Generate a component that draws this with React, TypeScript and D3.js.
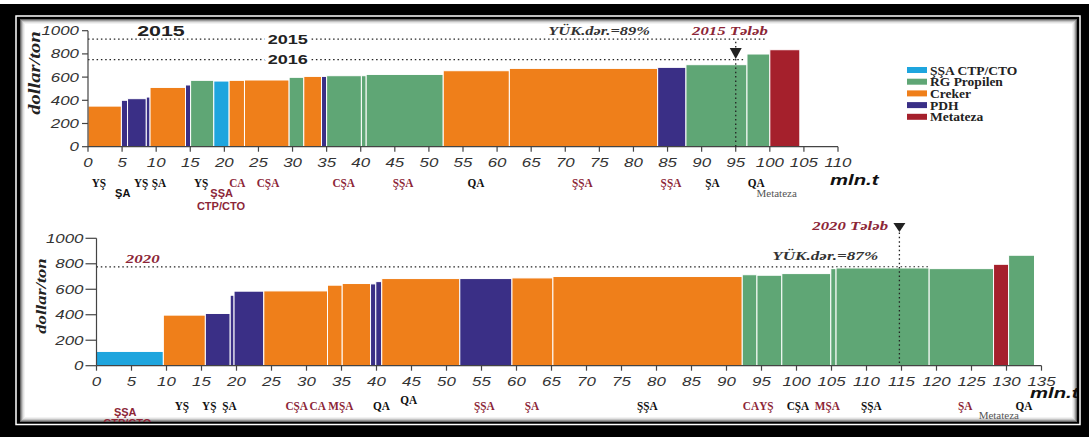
import React from 'react'
import * as d3 from 'd3'

const SERIF = '"Liberation Serif", "Times New Roman", serif'
const SANS = '"Liberation Sans", Arial, sans-serif'
const MAROON = '#8c2637'

// technology legend
const techNames = ['ŞŞA CTP/CTO', 'RG Propilen', 'Creker', 'PDH', 'Metateza']
const techCodes = ['S', 'R', 'C', 'P', 'M']
const techColors = ['#1ea5de', '#5fa675', '#ef7f1a', '#3a2f86', '#a5202c']

// 2015 cost curve: capacity (mln.t), cost (dollar/ton), technology
const capTop = [4.9, 0.9, 2.75, 0.55, 5.2, 0.75, 3.4, 2.25, 2.25, 6.55, 2.15, 2.6, 0.75, 5.1, 0.7, 11.3, 9.7, 21.75, 4.15, 8.95, 3.35, 4.4]
const costTop = [350, 400, 414, 428, 511, 532, 572, 566, 572, 575, 598, 606, 606, 612, 612, 623, 655, 675, 684, 707, 799, 836]
const techTop = ['C', 'P', 'P', 'P', 'C', 'P', 'R', 'S', 'C', 'C', 'R', 'C', 'P', 'R', 'R', 'R', 'C', 'C', 'P', 'R', 'R', 'M']

// 2020 cost curve
const capBot = [9.55, 6.0, 3.55, 0.55, 4.25, 9.1, 2.1, 4.05, 0.75, 0.85, 11.15, 7.45, 5.85, 27.05, 2.1, 3.55, 7.0, 0.75, 13.3, 9.2, 2.15, 3.7]
const costBot = [112, 397, 410, 553, 585, 587, 632, 645, 642, 660, 684, 684, 689, 700, 714, 710, 723, 762, 767, 762, 796, 867]
const techBot = ['S', 'C', 'P', 'P', 'P', 'C', 'C', 'C', 'P', 'P', 'C', 'P', 'C', 'C', 'R', 'R', 'R', 'R', 'R', 'R', 'M', 'R']

// region labels under the axis: text, position (mln.t), row, red?
// row: -1 raised, 0 normal, 1/2 sans lines, 3 small note
const regionsTop: [string, number, number, boolean][] = [
  ['YŞ', 1.6, 0, false], ['ŞA', 5.1, 1, false], ['YŞ', 7.8, 0, false], ['ŞA', 10.4, 0, false],
  ['YŞ', 16.6, 0, false], ['ŞŞA', 19.6, 1, true], ['CTP/CTO', 19.5, 2, true], ['CA', 21.9, 0, true],
  ['CŞA', 26.4, 0, true], ['CŞA', 37.5, 0, true], ['ŞŞA', 46.2, 0, true], ['QA', 56.9, 0, false],
  ['ŞŞA', 72.5, 0, true], ['ŞŞA', 85.5, 0, true], ['ŞA', 91.6, 0, false], ['QA', 98.0, 0, false],
  ['Metateza', 101.0, 3, false],
]
const regionsBot: [string, number, number, boolean][] = [
  ['ŞŞA', 4.1, 1, true], ['CTP/CTO', 4.4, 2, true], ['YŞ', 12.2, 0, false], ['YŞ', 16.1, 0, false],
  ['ŞA', 19.0, 0, false], ['CŞA', 28.6, 0, true], ['CA', 31.6, 0, true], ['MŞA', 34.9, 0, true],
  ['QA', 40.7, 0, false], ['QA', 44.6, -1, false], ['ŞŞA', 55.4, 0, true], ['ŞA', 62.2, 0, true],
  ['ŞŞA', 78.7, 0, false], ['CA', 93.5, 0, true], ['YŞ', 95.7, 0, true], ['CŞA', 100.2, 0, false],
  ['MŞA', 104.4, 0, true], ['ŞŞA', 110.7, 0, false], ['ŞA', 124.1, 0, true], ['QA', 132.5, 0, false],
  ['Metateza', 128.9, 3, false],
]

const yTicks = [0, 200, 400, 600, 800, 1000]

const T = ({ x, y, children, size = 12, sx = 1, sy = 1, anchor = 'middle', weight = 'bold', italic = false, family = SERIF, fill = '#000', rot = 0, halo = false }: any) => (
  <text
    transform={`translate(${x},${y}) rotate(${rot}) scale(${sx},${sy})`}
    fontSize={size} fontFamily={family} fontWeight={weight} fontStyle={italic ? 'italic' : 'normal'}
    textAnchor={anchor} fill={fill}
    stroke={halo ? '#fff' : 'none'} strokeWidth={halo ? 5 : 0} paintOrder="stroke"
  >{children}</text>
)

const colorOf = (code: string) => techColors[techCodes.indexOf(code)]

function Curve({ caps, costs, techs, x, y, tickLen, labelGap, regions, rowY }: any) {
  const starts = caps.map((_: number, i: number) => d3.sum(caps.slice(0, i)))
  const [x0, x1] = x.range()
  const [y0] = y.range()
  const ticks = d3.range(x.domain()[0], x.domain()[1] + 1, 5)
  return (
    <g>
      {caps.map((c: number, i: number) => (
        <rect key={i} x={x(starts[i])} width={x(starts[i] + c) - x(starts[i])}
          y={y(costs[i])} height={y0 - y(costs[i])}
          fill={colorOf(techs[i])} stroke="#fff" strokeWidth={1} />
      ))}
      {/* y axis */}
      <line x1={x0} x2={x0} y1={y0} y2={y(1000)} stroke="#444" strokeWidth={1.2} />
      {yTicks.map(t => (
        <g key={t}>
          <line x1={x0 - tickLen} x2={x0} y1={y(t)} y2={y(t)} stroke="#444" strokeWidth={1.2} />
          <T x={x0 - labelGap} y={y(t) + 4.5} size={12.5} sx={1.35} anchor="end" weight="normal" italic family={SANS} fill="#333">{t}</T>
        </g>
      ))}
      {/* x axis */}
      <line x1={x0} x2={x1} y1={y0} y2={y0} stroke="#444" strokeWidth={1.2} />
      {ticks.map(t => (
        <g key={t}>
          <line x1={x(t)} x2={x(t)} y1={y0} y2={y0 + 5} stroke="#444" strokeWidth={1.2} />
          <T x={x(t)} y={y0 + 20} size={12.5} sx={1.35} weight="normal" italic family={SANS} fill="#333">{t}</T>
        </g>
      ))}
      {regions.map(([txt, v, row, red]: any, i: number) => {
        const sansRow = row === 1 || row === 2
        if (row === 3) return <T key={i} x={x(v)} y={rowY[4]} size={10.5} sx={1.05} weight="normal" fill="#555">{txt}</T>
        return (
          <T key={i} x={x(v)} y={rowY[row + 1]} size={sansRow ? 10.5 : 11.5} sx={sansRow ? 1.05 : 0.98}
            family={sansRow ? SANS : SERIF} fill={red ? MAROON : '#111'}>{txt}</T>
        )
      })}
    </g>
  )
}

export default function App() {
  const xTop = d3.scaleLinear().domain([0, 110]).range([88, 838])
  const yTop = d3.scaleLinear().domain([0, 1000]).range([146.7, 30.7])
  const xBot = d3.scaleLinear().domain([0, 135]).range([96.5, 1041.5])
  const yBot = d3.scaleLinear().domain([0, 1000]).range([365.7, 238.3])

  const dotted = { stroke: '#222', strokeWidth: 1.3, strokeDasharray: '1.5,2.8', fill: 'none' }

  return (
    <svg width={1089} height={437} style={{ position: 'absolute', left: 0, top: 0 }}>
      <defs>
        <clipPath id="panel"><rect x={20} y={19} width={1057} height={403} /></clipPath>
      </defs>
      <rect width={1089} height={437} fill="#000" />
      <rect width={1089} height={4} fill="#fff" />
      <rect x={16} y={16} width={1064} height={408.5} fill="none" stroke="#fff" strokeWidth={1.5} />
      <rect x={20} y={19} width={1057} height={403} fill="#fff" />
      <rect x={20.5} y={19.5} width={1056} height={402} fill="none" stroke="#666" strokeWidth={1} />
      <rect x={21.5} y={20.5} width={1054} height={400} fill="none" stroke="#999" strokeWidth={1} />
      <rect x={22.5} y={21.5} width={1052} height={398} fill="none" stroke="#c4c4c4" strokeWidth={1} />
      <rect x={23.5} y={22.5} width={1050} height={396} fill="none" stroke="#e2e2e2" strokeWidth={1} />
      <rect x={24.5} y={23.5} width={1048} height={394} fill="none" stroke="#f2f2f2" strokeWidth={1} />

      <g clipPath="url(#panel)">
        {/* ---------- 2015 ---------- */}
        <line x1={xTop(0)} x2={xTop(99.3)} y1={yTop(928)} y2={yTop(928)} {...dotted} />
        <line x1={xTop(0)} x2={xTop(96.4)} y1={yTop(750)} y2={yTop(750)} {...dotted} />
        <Curve caps={capTop} costs={costTop} techs={techTop} x={xTop} y={yTop}
          tickLen={6} labelGap={9} regions={regionsTop} rowY={[186.7, 186.7, 197.3, 210, 196.7]} />
        <line x1={xTop(95)} x2={xTop(95)} y1={yTop(905)} y2={yTop(0)} {...dotted} />
        <path d={`M${xTop(95) - 6},${yTop(850)} L${xTop(95) + 6},${yTop(850)} L${xTop(95)},${yTop(755)} Z`} fill="#222" />
        <T x={xTop(10.7)} y={36} size={15.5} sx={1.38} family={SANS} fill="#222">2015</T>
        <T x={xTop(29.3)} y={yTop(928) + 4.5} size={12.5} sx={1.45} family={SANS} fill="#222" halo>2015</T>
        <T x={xTop(29.3)} y={yTop(750) + 4.5} size={12.5} sx={1.45} family={SANS} fill="#222" halo>2016</T>
        <T x={xTop(67.5)} y={35} size={13.5} sx={1.22} italic anchor="start" fill="#333">YÜK.dər.=89%</T>
        <T x={xTop(88.6)} y={35} size={13.5} sx={1.24} italic anchor="start" fill={MAROON}>2015 Tələb</T>
        <T x={40} y={73} size={16.5} sx={1.25} rot={-90} italic fill="#222">dollar/ton</T>
        <T x={830} y={185} size={14.5} sx={1.4} italic anchor="start" family={SANS} fill="#111">mln.t</T>

        {/* legend */}
        {techNames.map((n, i) => (
          <g key={n}>
            <rect x={907} y={67 + i * 11.7} width={20} height={6} fill={techColors[i]} />
            <T x={930} y={74.5 + i * 11.7} size={13.5} anchor="start" fill="#222">{n}</T>
          </g>
        ))}

        {/* ---------- 2020 ---------- */}
        <line x1={xBot(0)} x2={xBot(119.1)} y1={yBot(775)} y2={yBot(775)} {...dotted} />
        <Curve caps={capBot} costs={costBot} techs={techBot} x={xBot} y={yBot}
          tickLen={11} labelGap={13} regions={regionsBot} rowY={[404.3, 409.5, 416, 427, 419]} />
        <line x1={xBot(114.7)} x2={xBot(114.7)} y1={yBot(1045)} y2={yBot(0)} {...dotted} />
        <path d={`M${xBot(114.7) - 6},223 L${xBot(114.7) + 6},223 L${xBot(114.7)},232 Z`} fill="#222" />
        <T x={xBot(6.6)} y={yBot(775) - 3.5} size={12.5} sx={1.35} italic fill={MAROON}>2020</T>
        <T x={xBot(104.1)} y={260} size={13.5} sx={1.27} italic fill="#333">YÜK.dər.=87%</T>
        <T x={888} y={230} size={13.5} sx={1.24} italic anchor="end" fill={MAROON}>2020 Tələb</T>
        <T x={46} y={296} size={15.5} sx={1.2} rot={-90} italic fill="#222">dollar/ton</T>
        <T x={1030} y={397.7} size={14.5} sx={1.4} italic anchor="start" family={SANS} fill="#111">mln.t</T>
      </g>
    </svg>
  )
}
